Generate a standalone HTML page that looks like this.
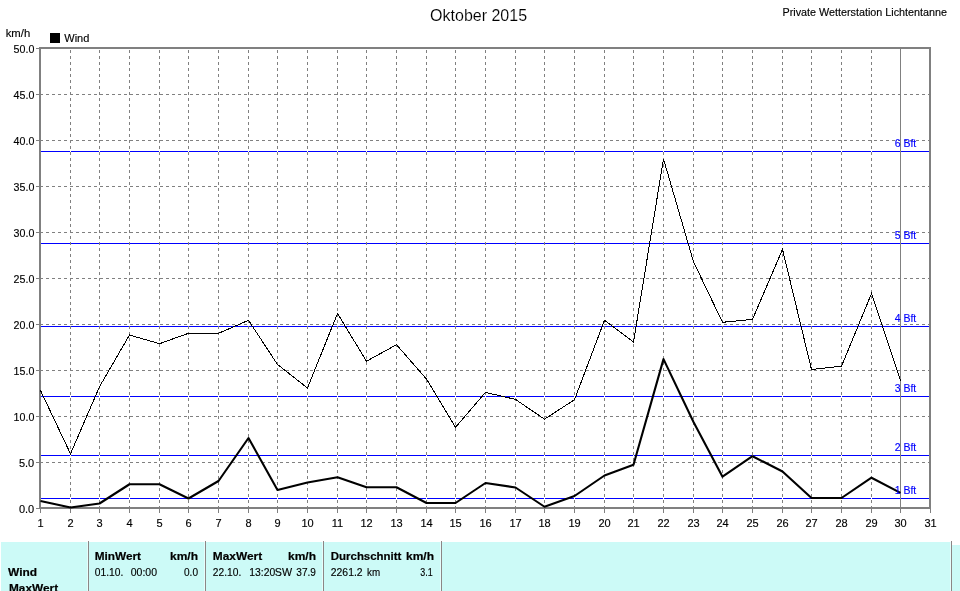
<!DOCTYPE html>
<html><head><meta charset="utf-8"><title>Oktober 2015</title>
<style>
html,body{margin:0;padding:0;background:#fff;}
body{width:960px;height:591px;overflow:hidden;position:relative;font-family:"Liberation Sans",sans-serif;}
svg{position:absolute;left:0;top:0;display:block}
text{font-family:"Liberation Sans",sans-serif;font-size:11px;fill:#000;white-space:pre}
text{stroke:#000;stroke-width:0.15px}
.b{font-weight:bold;stroke-width:0.2px}
.bl{fill:#0000ff;stroke:#0000ff}
</style></head><body>
<svg width="960" height="591" viewBox="0 0 960 591">
<defs><filter id="g" x="0" y="0" width="960" height="591" filterUnits="userSpaceOnUse"><feOffset dx="0" dy="0"/></filter></defs>
<rect x="0" y="0" width="960" height="591" fill="#fff"/>

<g shape-rendering="crispEdges" stroke="#0000ff" stroke-width="1">
<line x1="41" y1="498.5" x2="929" y2="498.5"/>
<line x1="41" y1="455.5" x2="929" y2="455.5"/>
<line x1="41" y1="396.5" x2="929" y2="396.5"/>
<line x1="41" y1="326.5" x2="929" y2="326.5"/>
<line x1="41" y1="243.5" x2="929" y2="243.5"/>
<line x1="41" y1="151.5" x2="929" y2="151.5"/>
</g>
<g shape-rendering="crispEdges" stroke-width="1" fill="none">
<g stroke="#fff">
<line x1="70.5" y1="509" x2="70.5" y2="48"/>
<line x1="99.5" y1="509" x2="99.5" y2="48"/>
<line x1="129.5" y1="509" x2="129.5" y2="48"/>
<line x1="159.5" y1="509" x2="159.5" y2="48"/>
<line x1="188.5" y1="509" x2="188.5" y2="48"/>
<line x1="218.5" y1="509" x2="218.5" y2="48"/>
<line x1="248.5" y1="509" x2="248.5" y2="48"/>
<line x1="277.5" y1="509" x2="277.5" y2="48"/>
<line x1="307.5" y1="509" x2="307.5" y2="48"/>
<line x1="337.5" y1="509" x2="337.5" y2="48"/>
<line x1="366.5" y1="509" x2="366.5" y2="48"/>
<line x1="396.5" y1="509" x2="396.5" y2="48"/>
<line x1="426.5" y1="509" x2="426.5" y2="48"/>
<line x1="455.5" y1="509" x2="455.5" y2="48"/>
<line x1="485.5" y1="509" x2="485.5" y2="48"/>
<line x1="515.5" y1="509" x2="515.5" y2="48"/>
<line x1="544.5" y1="509" x2="544.5" y2="48"/>
<line x1="574.5" y1="509" x2="574.5" y2="48"/>
<line x1="604.5" y1="509" x2="604.5" y2="48"/>
<line x1="633.5" y1="509" x2="633.5" y2="48"/>
<line x1="663.5" y1="509" x2="663.5" y2="48"/>
<line x1="693.5" y1="509" x2="693.5" y2="48"/>
<line x1="722.5" y1="509" x2="722.5" y2="48"/>
<line x1="752.5" y1="509" x2="752.5" y2="48"/>
<line x1="782.5" y1="509" x2="782.5" y2="48"/>
<line x1="811.5" y1="509" x2="811.5" y2="48"/>
<line x1="841.5" y1="509" x2="841.5" y2="48"/>
<line x1="871.5" y1="509" x2="871.5" y2="48"/>
</g>
<g stroke="#808080" stroke-dasharray="3 3">
<line x1="70.5" y1="509" x2="70.5" y2="48"/>
<line x1="99.5" y1="509" x2="99.5" y2="48"/>
<line x1="129.5" y1="509" x2="129.5" y2="48"/>
<line x1="159.5" y1="509" x2="159.5" y2="48"/>
<line x1="188.5" y1="509" x2="188.5" y2="48"/>
<line x1="218.5" y1="509" x2="218.5" y2="48"/>
<line x1="248.5" y1="509" x2="248.5" y2="48"/>
<line x1="277.5" y1="509" x2="277.5" y2="48"/>
<line x1="307.5" y1="509" x2="307.5" y2="48"/>
<line x1="337.5" y1="509" x2="337.5" y2="48"/>
<line x1="366.5" y1="509" x2="366.5" y2="48"/>
<line x1="396.5" y1="509" x2="396.5" y2="48"/>
<line x1="426.5" y1="509" x2="426.5" y2="48"/>
<line x1="455.5" y1="509" x2="455.5" y2="48"/>
<line x1="485.5" y1="509" x2="485.5" y2="48"/>
<line x1="515.5" y1="509" x2="515.5" y2="48"/>
<line x1="544.5" y1="509" x2="544.5" y2="48"/>
<line x1="574.5" y1="509" x2="574.5" y2="48"/>
<line x1="604.5" y1="509" x2="604.5" y2="48"/>
<line x1="633.5" y1="509" x2="633.5" y2="48"/>
<line x1="663.5" y1="509" x2="663.5" y2="48"/>
<line x1="693.5" y1="509" x2="693.5" y2="48"/>
<line x1="722.5" y1="509" x2="722.5" y2="48"/>
<line x1="752.5" y1="509" x2="752.5" y2="48"/>
<line x1="782.5" y1="509" x2="782.5" y2="48"/>
<line x1="811.5" y1="509" x2="811.5" y2="48"/>
<line x1="841.5" y1="509" x2="841.5" y2="48"/>
<line x1="871.5" y1="509" x2="871.5" y2="48"/>
<line x1="40" y1="462.5" x2="930" y2="462.5"/>
<line x1="40" y1="416.5" x2="930" y2="416.5"/>
<line x1="40" y1="370.5" x2="930" y2="370.5"/>
<line x1="40" y1="324.5" x2="930" y2="324.5"/>
<line x1="40" y1="278.5" x2="930" y2="278.5"/>
<line x1="40" y1="232.5" x2="930" y2="232.5"/>
<line x1="40" y1="186.5" x2="930" y2="186.5"/>
<line x1="40" y1="140.5" x2="930" y2="140.5"/>
<line x1="40" y1="94.5" x2="930" y2="94.5"/>
</g>
<line stroke="#808080" x1="900.5" y1="48" x2="900.5" y2="508"/>
</g>
<g shape-rendering="crispEdges" fill="#808080">
<rect x="39" y="47" width="892" height="2"/>
<rect x="39" y="507" width="892" height="2"/>
<rect x="39" y="47" width="2" height="462"/>
<rect x="929" y="47" width="2" height="462"/>
<rect x="36" y="508" width="3" height="1"/>
<rect x="36" y="462" width="3" height="1"/>
<rect x="36" y="416" width="3" height="1"/>
<rect x="36" y="370" width="3" height="1"/>
<rect x="36" y="324" width="3" height="1"/>
<rect x="36" y="278" width="3" height="1"/>
<rect x="36" y="232" width="3" height="1"/>
<rect x="36" y="186" width="3" height="1"/>
<rect x="36" y="140" width="3" height="1"/>
<rect x="36" y="94" width="3" height="1"/>
<rect x="36" y="48" width="3" height="1"/>
<rect x="40" y="509" width="1" height="4"/>
<rect x="70" y="509" width="1" height="4"/>
<rect x="99" y="509" width="1" height="4"/>
<rect x="129" y="509" width="1" height="4"/>
<rect x="159" y="509" width="1" height="4"/>
<rect x="188" y="509" width="1" height="4"/>
<rect x="218" y="509" width="1" height="4"/>
<rect x="248" y="509" width="1" height="4"/>
<rect x="277" y="509" width="1" height="4"/>
<rect x="307" y="509" width="1" height="4"/>
<rect x="337" y="509" width="1" height="4"/>
<rect x="366" y="509" width="1" height="4"/>
<rect x="396" y="509" width="1" height="4"/>
<rect x="426" y="509" width="1" height="4"/>
<rect x="455" y="509" width="1" height="4"/>
<rect x="485" y="509" width="1" height="4"/>
<rect x="515" y="509" width="1" height="4"/>
<rect x="544" y="509" width="1" height="4"/>
<rect x="574" y="509" width="1" height="4"/>
<rect x="604" y="509" width="1" height="4"/>
<rect x="633" y="509" width="1" height="4"/>
<rect x="663" y="509" width="1" height="4"/>
<rect x="693" y="509" width="1" height="4"/>
<rect x="722" y="509" width="1" height="4"/>
<rect x="752" y="509" width="1" height="4"/>
<rect x="782" y="509" width="1" height="4"/>
<rect x="811" y="509" width="1" height="4"/>
<rect x="841" y="509" width="1" height="4"/>
<rect x="871" y="509" width="1" height="4"/>
<rect x="900" y="509" width="1" height="4"/>
<rect x="930" y="509" width="1" height="4"/>
</g>
<polyline points="40.5,390.5 70.5,453.8 99.5,386.7 129.5,335.0 159.5,343.7 188.5,333.3 218.5,333.3 248.5,320.3 277.5,364.5 307.5,388.0 337.5,313.5 366.5,361.2 396.5,344.7 426.5,379.1 455.5,427.3 485.5,392.4 515.5,399.4 544.5,419.2 574.5,399.7 604.5,320.3 633.5,342.0 663.5,159.0 693.5,261.8 722.5,322.3 752.5,319.4 782.5,249.4 811.5,369.5 841.5,366.2 871.5,293.6 900.5,380.8" fill="none" stroke="#000" stroke-width="1" stroke-linejoin="miter" shape-rendering="crispEdges"/>
<polyline points="40.5,501.0 70.5,507.5 99.5,503.5 129.5,484.25 159.5,484.25 188.5,498.5 218.5,481.0 248.5,438.0 277.5,490.0 307.5,482.5 337.5,477.25 366.5,487.25 396.5,487.25 426.5,503.0 455.5,503.0 485.5,483.0 515.5,487.5 544.5,506.75 574.5,496.0 604.5,475.5 633.5,464.75 663.5,359.1 693.5,422.0 722.5,476.7 752.5,456.2 782.5,471.5 811.5,498.0 841.5,498.0 871.5,477.7 900.5,492.9" fill="none" stroke="#000" stroke-width="2.1" stroke-linejoin="round"/>
<rect x="1" y="542" width="951" height="49" fill="#ccfaf7" shape-rendering="crispEdges"/>
<rect x="952" y="545" width="8" height="46" fill="#ccfaf7" shape-rendering="crispEdges"/>
<g shape-rendering="crispEdges">
<rect x="87" y="542" width="1" height="49" fill="#e6fdfc"/><rect x="88" y="541" width="1" height="50" fill="#8c8686"/>
<rect x="204" y="542" width="1" height="49" fill="#e6fdfc"/><rect x="205" y="541" width="1" height="50" fill="#8c8686"/>
<rect x="322" y="542" width="1" height="49" fill="#e6fdfc"/><rect x="323" y="541" width="1" height="50" fill="#8c8686"/>
<rect x="440" y="542" width="1" height="49" fill="#e6fdfc"/><rect x="441" y="541" width="1" height="50" fill="#8c8686"/>
<rect x="950" y="542" width="1" height="49" fill="#e6fdfc"/><rect x="951" y="541" width="1" height="50" fill="#8c8686"/>
</g>
<rect x="50" y="33" width="10" height="10" fill="#000" shape-rendering="crispEdges"/>
<g filter="url(#g)">
<text x="34.2" y="512.6" text-anchor="end">0.0</text>
<text x="34.2" y="466.6" text-anchor="end">5.0</text>
<text x="13.6" y="420.6" textLength="20.8" lengthAdjust="spacingAndGlyphs">10.0</text>
<text x="13.6" y="374.6" textLength="20.8" lengthAdjust="spacingAndGlyphs">15.0</text>
<text x="13.6" y="328.6" textLength="20.8" lengthAdjust="spacingAndGlyphs">20.0</text>
<text x="13.6" y="282.6" textLength="20.8" lengthAdjust="spacingAndGlyphs">25.0</text>
<text x="13.6" y="236.6" textLength="20.8" lengthAdjust="spacingAndGlyphs">30.0</text>
<text x="13.6" y="190.6" textLength="20.8" lengthAdjust="spacingAndGlyphs">35.0</text>
<text x="13.6" y="144.6" textLength="20.8" lengthAdjust="spacingAndGlyphs">40.0</text>
<text x="13.6" y="98.6" textLength="20.8" lengthAdjust="spacingAndGlyphs">45.0</text>
<text x="13.6" y="52.6" textLength="20.8" lengthAdjust="spacingAndGlyphs">50.0</text>
<text x="40.5" y="527" text-anchor="middle">1</text>
<text x="70.5" y="527" text-anchor="middle">2</text>
<text x="99.5" y="527" text-anchor="middle">3</text>
<text x="129.5" y="527" text-anchor="middle">4</text>
<text x="159.5" y="527" text-anchor="middle">5</text>
<text x="188.5" y="527" text-anchor="middle">6</text>
<text x="218.5" y="527" text-anchor="middle">7</text>
<text x="248.5" y="527" text-anchor="middle">8</text>
<text x="277.5" y="527" text-anchor="middle">9</text>
<text x="307.5" y="527" text-anchor="middle">10</text>
<text x="337.5" y="527" text-anchor="middle">11</text>
<text x="366.5" y="527" text-anchor="middle">12</text>
<text x="396.5" y="527" text-anchor="middle">13</text>
<text x="426.5" y="527" text-anchor="middle">14</text>
<text x="455.5" y="527" text-anchor="middle">15</text>
<text x="485.5" y="527" text-anchor="middle">16</text>
<text x="515.5" y="527" text-anchor="middle">17</text>
<text x="544.5" y="527" text-anchor="middle">18</text>
<text x="574.5" y="527" text-anchor="middle">19</text>
<text x="604.5" y="527" text-anchor="middle">20</text>
<text x="633.5" y="527" text-anchor="middle">21</text>
<text x="663.5" y="527" text-anchor="middle">22</text>
<text x="693.5" y="527" text-anchor="middle">23</text>
<text x="722.5" y="527" text-anchor="middle">24</text>
<text x="752.5" y="527" text-anchor="middle">25</text>
<text x="782.5" y="527" text-anchor="middle">26</text>
<text x="811.5" y="527" text-anchor="middle">27</text>
<text x="841.5" y="527" text-anchor="middle">28</text>
<text x="871.5" y="527" text-anchor="middle">29</text>
<text x="900.5" y="527" text-anchor="middle">30</text>
<text x="930.5" y="527" text-anchor="middle">31</text>
<text class="bl" x="894.7" y="493.6" textLength="21.6" lengthAdjust="spacingAndGlyphs">1 Bft</text>
<text class="bl" x="894.7" y="450.6" textLength="21.6" lengthAdjust="spacingAndGlyphs">2 Bft</text>
<text class="bl" x="894.7" y="391.6" textLength="21.6" lengthAdjust="spacingAndGlyphs">3 Bft</text>
<text class="bl" x="894.7" y="321.6" textLength="21.6" lengthAdjust="spacingAndGlyphs">4 Bft</text>
<text class="bl" x="894.7" y="238.6" textLength="21.6" lengthAdjust="spacingAndGlyphs">5 Bft</text>
<text class="bl" x="894.7" y="146.6" textLength="21.6" lengthAdjust="spacingAndGlyphs">6 Bft</text>
<text x="5.7" y="37" textLength="24.5" lengthAdjust="spacingAndGlyphs">km/h</text>
<text x="64.3" y="42">Wind</text>
<text x="478.6" y="21" text-anchor="middle" style="font-size:16px;stroke:#fff;stroke-width:0.12px">Oktober 2015</text>
<text x="782.5" y="16" textLength="164.5" lengthAdjust="spacingAndGlyphs">Private Wetterstation Lichtentanne</text>
<text class="b" x="8" y="576" textLength="29.00" lengthAdjust="spacingAndGlyphs">Wind</text>
<text class="b" x="9" y="591.6" textLength="49.10" lengthAdjust="spacingAndGlyphs">MaxWert</text>
<text class="b" x="94.75" y="560" textLength="46.25" lengthAdjust="spacingAndGlyphs">MinWert</text>
<text class="b" x="170" y="560" textLength="28.00" lengthAdjust="spacingAndGlyphs">km/h</text>
<text x="94.75" y="576" textLength="28.50" lengthAdjust="spacingAndGlyphs">01.10.</text>
<text x="130.75" y="576" textLength="26.25" lengthAdjust="spacingAndGlyphs">00:00</text>
<text x="184" y="576" textLength="14.00" lengthAdjust="spacingAndGlyphs">0.0</text>
<text class="b" x="212.8" y="560" textLength="49.30" lengthAdjust="spacingAndGlyphs">MaxWert</text>
<text class="b" x="288" y="560" textLength="28.00" lengthAdjust="spacingAndGlyphs">km/h</text>
<text x="212.8" y="576" textLength="28.45" lengthAdjust="spacingAndGlyphs">22.10.</text>
<text x="249.25" y="576" textLength="26.00" lengthAdjust="spacingAndGlyphs">13:20</text>
<text x="274.8" y="576" textLength="17.30" lengthAdjust="spacingAndGlyphs">SW</text>
<text x="296.3" y="576" textLength="19.60" lengthAdjust="spacingAndGlyphs">37.9</text>
<text class="b" x="330.8" y="560" textLength="70.60" lengthAdjust="spacingAndGlyphs">Durchschnitt</text>
<text class="b" x="406" y="560" textLength="28.00" lengthAdjust="spacingAndGlyphs">km/h</text>
<text x="330.8" y="576" textLength="31.80" lengthAdjust="spacingAndGlyphs">2261.2</text>
<text x="367" y="576" textLength="13.10" lengthAdjust="spacingAndGlyphs">km</text>
<text x="420.2" y="576" textLength="12.40" lengthAdjust="spacingAndGlyphs">3.1</text>
</g>
</svg></body></html>
